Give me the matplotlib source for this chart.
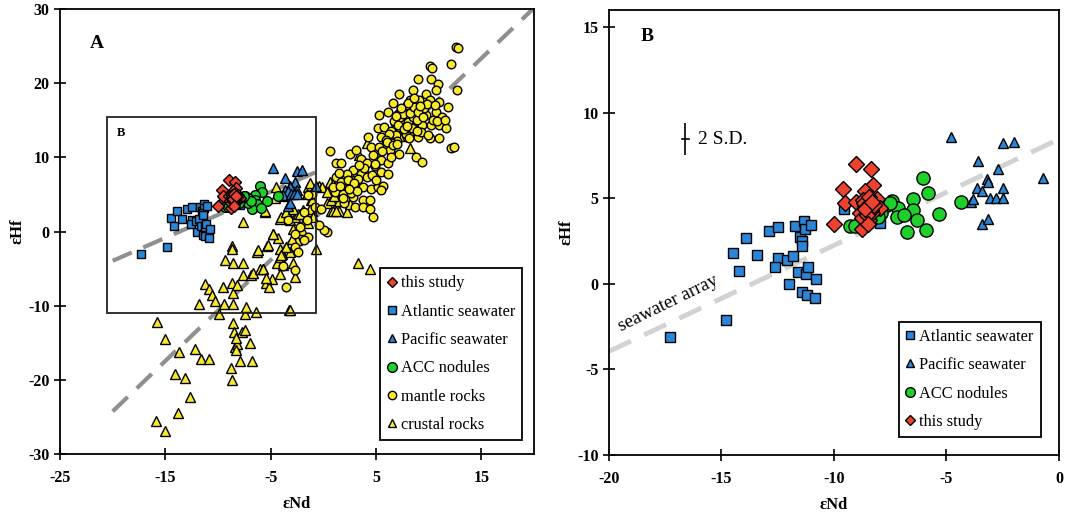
import matplotlib
matplotlib.use("Agg")
import matplotlib.pyplot as plt
from matplotlib.lines import Line2D

plt.rcParams['font.family'] = ['Liberation Serif', 'DejaVu Serif']
plt.rcParams['axes.unicode_minus'] = False

# ---------------- data (eNd, eHf) ----------------
atlantic_nd = [-17.3, -14.8, -14.5, -14.2, -13.9, -13.4, -12.9, -12.5, -12.5, -12.6, -12.1, -12.0,
               -11.75, -11.8, -11.6, -11.5, -11.35, -11.3, -11.4, -11.4, -11.4, -11.25, -11.2,
               -11.15, -11.0, -10.8, -10.85, -9.55, -7.95]
atlantic_hf = [-3.1, -2.1, 1.8, 0.75, 2.7, 1.7, 3.1, 3.3, 1.5, 1.0, 1.4, 0.0,
               3.35, 1.65, 0.7, 2.75, 3.65, 3.2, 2.5, 2.2, -0.45, 0.6, -0.65,
               1.0, 3.45, 0.3, -0.85, 4.35, 3.55]

pacific_nd = [-4.8, -2.5, -2.0, -0.7, -3.6, -2.7, -3.2, -3.15, -3.65, -3.4, -2.5, -3.9,
              -3.8, -3.05, -2.8, -2.5, -3.4, -3.15]
pacific_hf = [8.6, 8.2, 8.3, 6.2, 7.2, 6.7, 6.1, 5.95, 5.6, 5.4, 5.6, 4.8,
              4.95, 5.0, 5.0, 5.0, 3.5, 3.8]

acc_nd = [-6.05, -5.8, -6.5, -4.35, -5.35, -6.5, -6.3, -6.75, -5.9, -7.4, -7.15, -7.2,
          -6.9, -7.65, -7.9, -8.05, -9.3, -9.05, -7.5]
acc_hf = [6.2, 5.3, 4.95, 4.8, 4.1, 4.3, 3.75, 3.0, 3.15, 4.85, 4.45, 3.9,
          4.05, 4.6, 4.15, 3.9, 3.35, 3.35, 4.75]

study_nd = [-9.0, -8.35, -9.6, -9.5, -10.0, -8.25, -8.6, -9.0, -8.75, -8.85, -8.4, -8.1,
            -7.95, -8.45, -8.6, -8.3, -8.7, -8.75, -8.55, -8.45, -8.35, -8.65, -8.5,
            -8.4, -8.55, -8.2, -8.6, -8.45, -8.3, -8.5]
study_hf = [7.0, 6.7, 5.55, 4.75, 3.5, 5.8, 5.4, 4.8, 3.2, 4.15, 4.65, 4.95,
            4.45, 3.75, 4.55, 4.15, 4.9, 3.85, 4.35, 4.5, 4.3, 4.7, 4.6,
            4.25, 4.05, 4.6, 4.4, 5.1, 4.8, 3.5]

mantle_nd = [12.6, 12.8, 10.1, 10.3, 12.1, 12.7, 9.0, 10.2, 10.9, 10.7, 9.75, 8.5,
             7.2, 6.6, 8.2, 9.1, 10.1, 11.0, 11.8, 5.3, 6.1, 7.1, 8.0, 8.8,
             9.75, 10.7, 11.3, 5.2, 5.8, 6.4, 7.2, 8.5, 9.4, 10.2, 11.0, 11.65,
             4.2, 5.5, 6.9, 7.9, 9.0, 10.1, 11.0, 4.5, 5.3, 6.3, 7.2, 8.8,
             9.4, 12.1, 12.4, 0.6, 2.5, 3.1, 3.6, 4.7, 5.5, 6.1, 1.2, 1.7,
             4.1, 4.9, 5.5, 6.1, 2.8, 3.6, 2.2, 1.2, 1.7, 2.5, 3.1, 3.75,
             4.5, 5.2, 5.65, 5.5, 1.1, 1.9, 2.8, 3.75, 4.4, 2.0, 3.0, 3.75,
             4.4, 4.7, 0.3, 0.1, -1.8, -1.6, -2.25, -1.45, -1.8, -2.7, -3.35, -2.7,
             -2.4, -2.7, -3.5, -3.8, -1.05, -1.45, -0.8, -0.2, 7.5, 8.0, 8.5, 7.7,
             8.3, 7.8, 8.9, 6.8, 7.4, 7.0, 6.5, 9.6, 8.7, 7.9, 6.2, 5.9,
             8.1, 9.3, 7.3, 6.7, 2.3, 1.5, 3.3, 2.6, 1.9, 0.9, -0.4, 4.1,
             7.6, 8.2, 8.6, 7.1, 6.9, 7.7, 8.4, 9.0, 9.8, 10.4, 10.6, 9.5,
             8.0, 7.4, 6.0, 6.6, 7.0, 8.9, 9.2, 7.9, 8.1, 6.4, 5.6, 4.9,
             3.9, 3.4, 2.9, 4.6, 5.0, 3.2, 2.4, 1.6, 10.8, 11.5, 9.9, 8.6]
mantle_hf = [24.9, 24.8, 22.3, 22.0, 22.6, 19.1, 20.6, 20.5, 19.9, 19.1, 18.6, 19.1,
             18.6, 17.3, 17.7, 17.7, 17.7, 17.5, 16.8, 15.7, 16.1, 15.9, 16.4, 15.9,
             15.7, 16.1, 15.5, 13.9, 14.1, 13.6, 14.1, 14.1, 14.3, 14.3, 14.3, 13.9,
             12.8, 12.8, 13.0, 12.8, 12.8, 12.6, 12.6, 11.4, 11.4, 11.0, 10.5, 10.1,
             9.4, 11.2, 11.4, 10.9, 10.5, 11.0, 9.8, 10.3, 9.7, 9.2, 9.2, 9.3,
             9.2, 8.8, 8.0, 7.8, 8.3, 7.8, 7.8, 7.4, 6.7, 6.4, 6.0, 6.0,
             5.7, 6.0, 6.2, 5.6, 5.3, 5.1, 4.6, 4.3, 4.2, 3.8, 3.3, 3.3,
             3.1, 1.9, -0.1, 0.2, 2.6, 1.5, 0.6, -0.7, -1.2, -2.1, 1.5, -0.3,
             -2.8, -5.2, -7.5, -4.6, 5.1, 4.9, 3.3, 3.1, 15.2, 14.8, 15.5, 16.2,
             13.5, 13.2, 15.0, 14.6, 16.5, 12.2, 12.0, 16.6, 17.0, 17.0, 13.1, 12.4,
             14.0, 13.4, 15.4, 14.9, 6.9, 7.9, 7.1, 5.2, 4.5, 6.0, 0.9, 7.3,
             15.9, 16.0, 16.8, 14.4, 15.6, 13.8, 13.9, 16.1, 17.2, 15.0, 17.1, 15.4,
             17.3, 16.7, 12.1, 11.6, 11.8, 13.6, 16.9, 14.2, 12.6, 10.1, 10.9, 9.1,
             8.6, 8.9, 6.6, 7.6, 7.0, 5.4, 5.7, 6.1, 14.9, 15.1, 13.0, 18.0]

crustal_nd = [-15.8, -15.0, -13.7, -12.2, -11.6, -10.9, -14.1, -13.1, -12.7, -13.8, -15.9, -15.0,
              -8.8, -8.7, -7.9, -6.8, -7.0, -8.6, -8.5, -8.35, -8.2, -7.7, -7.4, -8.25,
              -8.3, -11.8, -11.2, -10.9, -10.6, -10.3, -9.9, -9.4, -9.5, -9.3, -8.7, -8.7,
              -8.6, -8.6, -8.7, -8.6, -8.2, -7.6, -7.6, -7.4, -7.3, -6.9, -6.7, -6.4,
              -6.3, -6.0, -5.7, -5.35, -5.4, -5.2, -4.9, -4.8, -4.3, -4.15, -4.1, -4.4,
              -3.3, -0.7, -7.6, -5.5, -4.1, -3.4, -3.2, -2.9, -2.7, -2.4, -2.25, -1.8,
              -1.9, -1.5, -1.15, -1.1, -2.5, -3.2, -2.9, -2.7, -3.9, -3.5, -4.5, -4.55,
              -5.5, -4.05, -3.5, -2.9, -2.25, -1.3, -1.1, -1.6, -1.3, -0.4, 0.6, 0.75,
              1.5, 0.3, -4.8, -5.3, -6.2, -4.15, -3.8, -5.7, -5.4, -3.2, 3.3, 4.4,
              -0.1, 0.7, 0.9, 1.5, 2.2, 2.5, 2.0, 3.4, 4.1, 4.0, 6.3, 8.2,
              7.5, 0.3, 0.9, 1.2, -4.0, -3.0, -2.0, -1.5, -1.0, 1.0, 1.8, 2.8]
crustal_hf = [-12.2, -14.5, -16.3, -15.9, -17.2, -17.2, -19.2, -19.8, -22.3, -24.5, -25.5, -26.9,
              -18.4, -20.0, -17.4, -17.4, -15.0, -12.3, -13.5, -15.6, -15.1, -13.5, -13.3, -14.4,
              -16.0, -9.8, -7.1, -7.8, -8.6, -9.4, -11.1, -9.8, -7.5, -3.9, -2.0, -2.3,
              -4.3, -9.8, -7.0, -8.3, -7.2, -4.3, -5.9, -11.1, -10.2, -5.9, -5.6, -10.8,
              -2.7, -5.0, -5.0, -2.0, -7.0, -7.5, -6.4, -0.3, -0.9, -2.3, -5.7, -4.3,
              -10.6, -2.3, 1.3, 2.6, 1.7, 2.4, 1.5, 0.4, 2.0, 2.4, -0.3, 1.3,
              2.9, 6.0, 4.2, 2.8, -1.2, -2.8, -4.3, -6.1, -3.0, -2.1, 6.0, 4.5,
              2.7, 2.0, 2.6, 3.1, 2.4, 3.1, 4.2, 5.1, 6.5, 6.1, 6.7, 2.7,
              2.7, 3.8, -0.3, -1.85, -2.5, -3.4, -4.5, -5.0, -6.3, -10.6, -4.3, -5.1,
              6.0, 4.2, 2.8, 4.1, 2.6, 3.7, 7.4, 10.3, 11.9, 8.2, 11.4, 11.2,
              12.9, 5.3, 6.4, 2.8, -3.2, -1.0, 0.2, 1.2, 2.0, 4.8, 5.5, 7.0]

# reference arrays: eHf = slope * eNd + intercept
terr_slope, terr_int = 1.36, 2.95
sw_slope, sw_int = 0.62, 8.45
terr_range = [-20.0, 20.0]
sw_range = [-20.0, 0.0]

# ---------------- styles ----------------
c_blue = '#2a86d8'
c_green = '#1fd02a'
c_red = '#ee4130'
c_yellow = '#f8e82c'
edge = dict(markeredgecolor='black', markeredgewidth=1.0, linestyle='none')

fig = plt.figure(figsize=(10.89, 5.14), dpi=100)
axA = fig.add_axes([0.0551, 0.1167, 0.4353, 0.8658])
axB = fig.add_axes([0.5592, 0.1148, 0.4132, 0.8658])


def style_axis(ax):
    for s in ax.spines.values():
        s.set_linewidth(1.3)
    ax.tick_params(direction='inout', length=9, width=1.2, labelsize=11.5)
    ax.tick_params(axis='x', pad=7)
    ax.tick_params(axis='y', pad=3)
    for lab in ax.get_xticklabels() + ax.get_yticklabels():
        lab.set_fontweight('bold')
    ax.set_xlabel('εNd', fontsize=12, fontweight='bold', labelpad=7)
    ax.set_ylabel('εHf', fontsize=12, fontweight='bold', labelpad=2)


legend_kw = dict(loc='lower right', fontsize=11.8, handlelength=0.5, handletextpad=0.3,
                 labelspacing=0.75, borderpad=0.45, borderaxespad=0.0, fancybox=False,
                 framealpha=1, edgecolor='black')

# ---------------- panel A ----------------
axA.plot(terr_range, [terr_slope * x + terr_int for x in terr_range], color='#8f8f8f',
         lw=3, dashes=(5, 3), zorder=1)
axA.plot(sw_range, [sw_slope * x + sw_int for x in sw_range], color='#8f8f8f',
         lw=3, dashes=(5, 3), zorder=1)

axA.plot(crustal_nd, crustal_hf, marker='^', ms=7, markerfacecolor=c_yellow, zorder=2, **edge)
axA.plot(mantle_nd, mantle_hf, marker='o', ms=6.2, markerfacecolor=c_yellow, zorder=2, **edge)
axA.plot(atlantic_nd, atlantic_hf, marker='s', ms=5.5, markerfacecolor=c_blue, zorder=3, **edge)
axA.plot(pacific_nd, pacific_hf, marker='^', ms=6.5, markerfacecolor=c_blue, zorder=3, **edge)
axA.plot(acc_nd, acc_hf, marker='o', ms=7, markerfacecolor=c_green, zorder=3, **edge)
axA.plot(study_nd, study_hf, marker='D', ms=6, markerfacecolor=c_red, zorder=4, **edge)

# outline of the enlarged region
axA.add_patch(plt.Rectangle((-20.5, -11.0), 19.8, 26.4, fill=False, lw=1.3,
                            edgecolor='#222222', zorder=5))
axA.text(-19.2, 13.3, 'B', fontsize=9, fontweight='bold', ha='center', va='center')
axA.text(-21.5, 25.4, 'A', fontsize=14, fontweight='bold', ha='center', va='center')

axA.set_xlim(-25, 20)
axA.set_ylim(-30, 30)
axA.set_xticks([-25, -15, -5, 5, 15])
axA.set_yticks([-30, -20, -10, 0, 10, 20, 30])
style_axis(axA)

hA = [Line2D([], [], marker='D', ms=5.5, markerfacecolor=c_red, **edge),
      Line2D([], [], marker='s', ms=5.5, markerfacecolor=c_blue, **edge),
      Line2D([], [], marker='^', ms=6, markerfacecolor=c_blue, **edge),
      Line2D([], [], marker='o', ms=7, markerfacecolor=c_green, **edge),
      Line2D([], [], marker='o', ms=6, markerfacecolor=c_yellow, **edge),
      Line2D([], [], marker='^', ms=6, markerfacecolor=c_yellow, **edge)]
legA = axA.legend(hA, ['this study', 'Atlantic seawater', 'Pacific seawater', 'ACC nodules',
                       'mantle rocks', 'crustal rocks'],
                  bbox_to_anchor=(0.975, 0.031), **legend_kw)
legA.get_frame().set_linewidth(1.3)

# ---------------- panel B ----------------
axB.plot(sw_range, [sw_slope * x + sw_int for x in sw_range], color='#d2d2d2',
         lw=3.5, dashes=(5, 3), zorder=1)
axB.text(-19.45, -2.8, 'seawater array', fontsize=13.5, rotation=26,
         rotation_mode='anchor', ha='left', va='baseline')

axB.plot(atlantic_nd, atlantic_hf, marker='s', ms=7.5, markerfacecolor=c_blue, zorder=3, **edge)
axB.plot(pacific_nd, pacific_hf, marker='^', ms=7, markerfacecolor=c_blue, zorder=3, **edge)
axB.plot(acc_nd, acc_hf, marker='o', ms=9.5, markerfacecolor=c_green, zorder=3, **edge)
axB.plot(study_nd, study_hf, marker='D', ms=8, markerfacecolor=c_red, zorder=4, **edge)

# 2 S.D. error bar
axB.errorbar([-16.6], [8.45], yerr=[[0.95], [0.95]], fmt='none', ecolor='black',
             elinewidth=1.2)
axB.plot([-16.75, -16.45], [8.45, 8.45], color='black', lw=1.2)
axB.text(-16.05, 8.45, '2 S.D.', fontsize=14, va='center', ha='left')
axB.text(-18.6, 14.45, 'B', fontsize=14, fontweight='bold', ha='left', va='center')

axB.set_xlim(-20, 0)
axB.set_ylim(-10, 16)
axB.set_xticks([-20, -15, -10, -5, 0])
axB.set_yticks([-10, -5, 0, 5, 10, 15])
style_axis(axB)

hB = [Line2D([], [], marker='s', ms=5.5, markerfacecolor=c_blue, **edge),
      Line2D([], [], marker='^', ms=6, markerfacecolor=c_blue, **edge),
      Line2D([], [], marker='o', ms=7, markerfacecolor=c_green, **edge),
      Line2D([], [], marker='D', ms=5.5, markerfacecolor=c_red, **edge)]
legB = axB.legend(hB, ['Atlantic seawater', 'Pacific seawater', 'ACC nodules', 'this study'],
                  bbox_to_anchor=(0.96, 0.04), **legend_kw)
legB.get_frame().set_linewidth(1.3)

fig.savefig('out.png', dpi=100)
